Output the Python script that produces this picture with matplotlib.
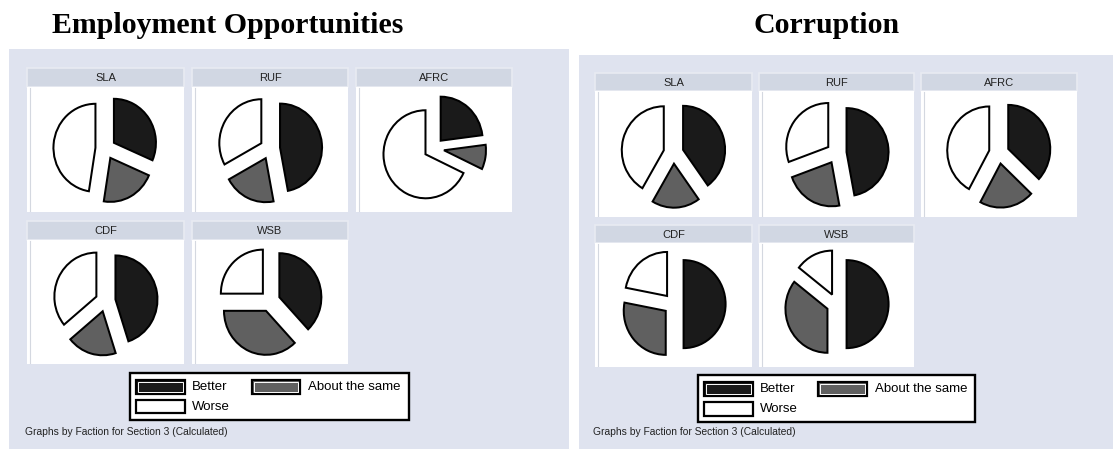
import matplotlib
matplotlib.use('Agg')
import matplotlib.pyplot as plt
from matplotlib.patches import Rectangle

# ---------------- data ----------------
factions = ["SLA", "RUF", "AFRC", "CDF", "WSB"]
categories = ["Better", "About the same", "Worse"]

emp_better = [31.5, 47.0, 23.0, 45.0, 38.0]
emp_same = [21.0, 20.0, 9.0, 19.0, 37.0]
emp_worse = [47.5, 33.0, 68.0, 36.0, 25.0]

cor_better = [40.0, 47.0, 37.0, 50.0, 50.0]
cor_same = [18.5, 22.5, 21.0, 28.0, 35.5]
cor_worse = [41.5, 30.5, 42.0, 22.0, 14.5]

titles = ["Employment Opportunities", "Corruption"]
caption = "Graphs by Faction for Section 3 (Calculated)"

# ---------------- style ----------------
W, H = 1118, 449
PANEL = "#dfe3ef"
STRIP = "#d1d7e3"
STRIP_EDGE = "#e8ebf2"
C_BETTER = "#1a1a1a"
C_SAME = "#606060"
C_WORSE = "#ffffff"
slice_colors = [C_BETTER, C_SAME, C_WORSE]
SANS = ["Liberation Sans", "DejaVu Sans"]
SERIF = ["Liberation Serif", "DejaVu Serif"]

fig = plt.figure(figsize=(W / 100, H / 100), dpi=100)
fig.patch.set_facecolor("white")
bg = fig.add_axes([0, 0, 1, 1])
bg.set_xlim(0, W)
bg.set_ylim(H, 0)
bg.axis("off")


def rect(x0, y0, x1, y1, **kw):
    bg.add_patch(Rectangle((x0, y0), x1 - x0, y1 - y0, **kw))


RX_PX = 42.0  # pie radius in pixels (horizontal)
RY_PX = 44.0  # pie radius in pixels (vertical; source image slightly stretched)


def draw_panel(panel_box, title_xy, cols, rows, legend, cap_xy, better, same, worse, title):
    px0, py0, px1, py1 = panel_box
    rect(px0, py0, px1, py1, facecolor=PANEL, edgecolor="none")
    bg.text(title_xy[0], title_xy[1], title, family=SERIF, fontweight="bold",
            fontsize=21.5, ha="center", va="baseline", color="black")
    cells = [(0, 0), (0, 1), (0, 2), (1, 0), (1, 1)]
    for i, (r, c) in enumerate(cells):
        x0, x1 = cols[c]
        hy0, hy1, wy1 = rows[r]
        # header strip
        rect(x0, hy0, x1, hy1, facecolor=STRIP, edgecolor=STRIP_EDGE, linewidth=1.2)
        bg.text((x0 + x1) / 2, (hy0 + hy1) / 2 + 0.5, factions[i], family=SANS,
                fontsize=8, ha="center", va="center", color="#222222")
        # white plot region
        rect(x0, hy1, x1, wy1, facecolor="white", edgecolor="none")
        bg.plot([x0 + 2.5, x0 + 2.5], [hy1 + 1, wy1 - 1], color="#d4d8e0", lw=0.8)
        # pie
        ax = fig.add_axes([x0 / W, 1 - wy1 / H, (x1 - x0) / W, (wy1 - hy1) / H])
        vals = [better[i], same[i], worse[i]]
        ax.pie(vals, colors=slice_colors, startangle=90, counterclock=False,
               explode=[0.24, 0.24, 0.24],
               wedgeprops=dict(edgecolor="black", linewidth=1.45))
        ax.set_aspect("auto")
        hw = (x1 - x0) / 2 / RX_PX
        hh = (wy1 - hy1) / 2 / RY_PX
        ax.set_xlim(-hw, hw)
        ax.set_ylim(-hh - 0.02, hh - 0.02)
        ax.axis("off")
    # legend
    lx0, ly0, lx1, ly1, items = legend
    rect(lx0, ly0, lx1, ly1, facecolor="white", edgecolor="black", linewidth=1.7)
    for (kx0, ky0, kx1, ky1, tx, color, label) in items:
        rect(kx0, ky0, kx1, ky1, facecolor=color, edgecolor="black", linewidth=1.6)
        if color != C_WORSE:
            rect(kx0 + 1.7, ky0 + 1.7, kx1 - 1.7, ky1 - 1.7, facecolor=color,
                 edgecolor="white", linewidth=0.7)
        bg.text(tx, (ky0 + ky1) / 2, label, family=SANS, fontsize=9.5,
                ha="left", va="center", color="black")
    bg.text(cap_xy[0], cap_xy[1], caption, family=SANS, fontsize=7.4,
            ha="left", va="center", color="#222222")


# left panel
draw_panel(
    (9, 49, 569, 449), (228, 33),
    [(27, 184), (192, 348), (356, 512)],
    [(68, 87, 212), (221, 240, 364)],
    (130, 373, 409, 420, [
        (136, 380, 185, 394, 192, C_BETTER, categories[0]),
        (252, 380, 300, 394, 308, C_SAME, categories[1]),
        (136, 400, 185, 413, 192, C_WORSE, categories[2]),
    ]),
    (25, 432), emp_better, emp_same, emp_worse, titles[0])

# right panel
draw_panel(
    (579, 55, 1113, 449), (827, 33),
    [(595, 752), (759, 914), (921, 1077)],
    [(73, 91, 217), (225, 243, 367)],
    (698, 375, 975, 422, [
        (704, 382, 753, 396, 760, C_BETTER, categories[0]),
        (818, 382, 867, 396, 875, C_SAME, categories[1]),
        (704, 402, 753, 416, 760, C_WORSE, categories[2]),
    ]),
    (593, 432), cor_better, cor_same, cor_worse, titles[1])

fig.savefig("out.png", dpi=100, facecolor="white")
